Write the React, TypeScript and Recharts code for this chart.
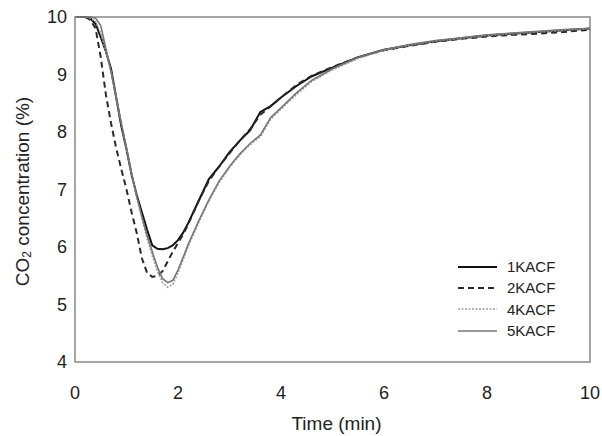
import React from 'react'
import {
  LineChart, Line, XAxis, YAxis, ReferenceArea, Label,
} from 'recharts'

// time in minutes
const time = [
  0, 0.2, 0.3, 0.4, 0.5, 0.6, 0.7, 0.8, 0.9, 1.0, 1.1, 1.2, 1.3, 1.4, 1.5, 1.6, 1.7, 1.8, 1.9, 2.0,
  2.1, 2.2, 2.4, 2.6, 2.8, 3.0, 3.2, 3.4, 3.6, 3.8, 4.0, 4.3, 4.6, 5.0, 5.5, 6.0, 6.5, 7.0, 7.5, 8.0,
  8.5, 9.0, 9.5, 10,
]

// CO2 concentration (%)
const kacf1 = [
  10, 10, 9.97, 9.88, 9.65, 9.4, 9.1, 8.6, 8.1, 7.7, 7.25, 6.9, 6.6, 6.3, 6.03, 5.97, 5.96, 5.98, 6.03, 6.12,
  6.25, 6.42, 6.8, 7.18, 7.4, 7.65, 7.85, 8.03, 8.35, 8.45, 8.6, 8.8, 8.97, 9.12, 9.3, 9.43, 9.51, 9.58, 9.63, 9.68,
  9.71, 9.74, 9.77, 9.8,
]
const kacf2 = [
  10, 10, 9.95, 9.8, 9.3, 8.65, 8.15, 7.72, 7.35, 7.0, 6.6, 6.24, 5.8, 5.55, 5.48, 5.5, 5.58, 5.75, 5.92, 6.07,
  6.22, 6.4, 6.8, 7.15, 7.4, 7.63, 7.85, 8.05, 8.3, 8.45, 8.6, 8.82, 8.98, 9.13, 9.3, 9.42, 9.5, 9.57, 9.62, 9.66,
  9.69, 9.71, 9.74, 9.78,
]
const kacf4 = [
  10, 10, 9.98, 9.92, 9.72, 9.4, 9.05, 8.6, 8.15, 7.7, 7.25, 6.85, 6.5, 6.15, 5.85, 5.58, 5.38, 5.3, 5.35, 5.55,
  5.78, 6.02, 6.42, 6.8, 7.12, 7.38, 7.6, 7.78, 7.92, 8.22, 8.4, 8.65, 8.88, 9.08, 9.28, 9.42, 9.51, 9.58, 9.63, 9.68,
  9.71, 9.74, 9.77, 9.8,
]
const kacf5 = [
  10, 10, 10, 9.98, 9.85, 9.45, 9.05, 8.6, 8.15, 7.72, 7.28, 6.88, 6.52, 6.2, 5.92, 5.65, 5.45, 5.38, 5.42, 5.6,
  5.82, 6.05, 6.45, 6.82, 7.15, 7.4, 7.62, 7.8, 7.95, 8.25, 8.42, 8.68, 8.9, 9.1, 9.3, 9.43, 9.52, 9.59, 9.64, 9.69,
  9.72, 9.75, 9.78, 9.8,
]

const xTicks = [0, 2, 4, 6, 8, 10]
const yTicks = [4, 5, 6, 7, 8, 9, 10]

const data = time.map((t, i) => ({
  t,
  k1: kacf1[i],
  k2: kacf2[i],
  k4: kacf4[i],
  k5: kacf5[i],
}))

const series = [
  { key: 'k1', name: '1KACF', color: '#111', width: 2, dash: undefined },
  { key: 'k2', name: '2KACF', color: '#2a2a2a', width: 2, dash: '6 4' },
  { key: 'k4', name: '4KACF', color: '#a0a0a0', width: 1.6, dash: '2 1.5' },
  { key: 'k5', name: '5KACF', color: '#777', width: 1.6, dash: undefined },
]

const FONT = '"Liberation Sans", Arial, sans-serif'
const TEXT = '#222'

function YTitle(props: any) {
  const vb = props.viewBox || { y: 17, height: 345 }
  const cx = 22
  const cy = vb.y + vb.height / 2 + 2
  return (
    <text
      x={cx}
      y={cy}
      transform={`rotate(-90 ${cx} ${cy})`}
      textAnchor="middle"
      dominantBaseline="central"
      fontSize={19}
      fill={TEXT}
      fontFamily={FONT}
    >
      CO<tspan fontSize={12} dy={5}>2</tspan>
      <tspan dy={-5}> concentration (%)</tspan>
    </text>
  )
}

// legend sits inside the plot, bottom right
function LegendBox() {
  return (
    <div
      style={{
        position: 'absolute', left: 458, top: 256,
        fontFamily: FONT, fontSize: 15, color: TEXT, lineHeight: '21px',
      }}
    >
      {series.map(s => (
        <div key={s.key} style={{ display: 'flex', alignItems: 'center', height: 21.3 }}>
          <svg width={39} height={10} style={{ marginRight: 10 }}>
            <line x1={0} y1={5} x2={39} y2={5} stroke={s.color} strokeWidth={s.width} strokeDasharray={s.dash} />
          </svg>
          <span>{s.name}</span>
        </div>
      ))}
    </div>
  )
}

export default function App() {
  return (
    <div style={{ position: 'absolute', left: 0, top: 0, width: 602, height: 436, background: '#fff' }}>
      <LineChart width={602} height={436} data={data} margin={{ top: 17, right: 12, left: 0, bottom: 0 }}>
        <XAxis
          dataKey="t"
          type="number"
          domain={[0, 10]}
          ticks={xTicks}
          axisLine={false}
          tickLine={false}
          tickMargin={18}
          height={74}
          tick={{ fontSize: 18, fill: TEXT, fontFamily: FONT }}
        >
          <Label value="Time (min)" position="insideBottom" offset={6} dx={4} fontSize={19} fill={TEXT} fontFamily={FONT} />
        </XAxis>
        <YAxis
          type="number"
          domain={[4, 10]}
          ticks={yTicks}
          axisLine={false}
          tickLine={false}
          width={75}
          tick={{ fontSize: 18, fill: TEXT, fontFamily: FONT }}
        >
          <Label content={YTitle} />
        </YAxis>
        <ReferenceArea x1={0} x2={10} y1={4} y2={10} fill="none" stroke="#888" strokeWidth={1.5} />
        {series.map(s => (
          <Line
            key={s.key}
            type="linear"
            dataKey={s.key}
            name={s.name}
            stroke={s.color}
            strokeWidth={s.width}
            strokeDasharray={s.dash}
            dot={false}
            isAnimationActive={false}
          />
        ))}
      </LineChart>
      <LegendBox />
    </div>
  )
}
